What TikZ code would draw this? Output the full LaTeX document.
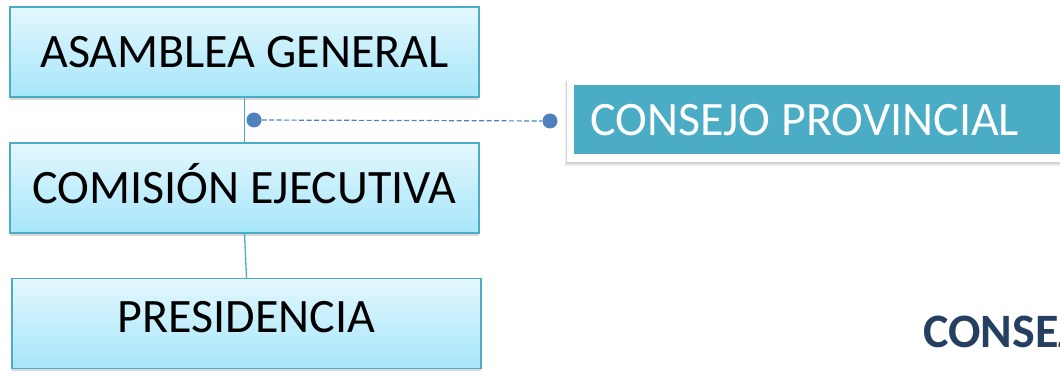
\documentclass[tikz,border=0pt]{standalone}
\usepackage{fontspec}
\setmainfont{Carlito}
\usetikzlibrary{shadows,calc}
\definecolor{boxtop}{HTML}{E3F7FD}
\definecolor{boxbot}{HTML}{A6E6FA}
\definecolor{boxline}{HTML}{4BACC6}
\definecolor{teal}{HTML}{4BACC6}
\definecolor{dotblue}{HTML}{4F81BD}
\definecolor{navy}{HTML}{243F60}
\tikzset{
  orgbox/.style={draw=boxline, line width=1.2pt, top color=boxtop, bottom color=boxbot,
    minimum width=469pt, minimum height=90pt, inner sep=0pt, text height=31pt, text depth=0pt,
    font=\fontsize{48}{52}\selectfont,
    drop shadow={shadow xshift=0pt, shadow yshift=-3pt, opacity=0.3, fill=gray}},
  link/.style={draw=boxline, line width=1.3pt},
  dot/.style={circle, fill=dotblue, inner sep=0pt, minimum size=15pt},
  dashlink/.style={draw=dotblue, line width=1.2pt, dash pattern=on 5pt off 2.5pt},
}
\begin{document}
\begin{tikzpicture}[x=1pt,y=1pt]
\useasboundingbox (0,0) rectangle (1060,370);
\clip (0,0) rectangle (1060,370);
% Consejo provincial box
\node[fill=black, opacity=0.08, minimum width=500pt, minimum height=84pt, anchor=south west] (cpsh1) at (565,204) {};
\node[fill=black, opacity=0.10, minimum width=500pt, minimum height=84pt, anchor=south west] (cpsh2) at (566,206) {};
\node[fill=white, minimum width=500pt, minimum height=84pt, anchor=south west] (cpout) at (567,208) {};
\node[fill=teal, minimum width=500pt, minimum height=69pt, anchor=south west, inner sep=0pt] (cp) at (574,216) {};
\node[anchor=west, text=white, inner sep=0pt, text height=31pt, text depth=0pt,
  font=\fontsize{48}{52}\selectfont] (cptext) at (590,250) {CONSEJO PROVINCIAL};
% Org boxes
\node[orgbox] (ag) at (244.5,318) {ASAMBLEA GENERAL};
\node[orgbox] (ce) at (244.5,182) {COMISIÓN EJECUTIVA};
\node[orgbox, text depth=13pt] (pr) at (246.5,46.5) {PRESIDENCIA};
% connectors
\draw[link] (ag.south) -- (ce.north);
\draw[link] (ce.south) -- (pr.north);
% dots and dashed connector
\node[dot] (d1) at (254,250) {};
\node[dot] (d2) at (550,249) {};
\draw[dashlink] (d1) -- (d2);
% bottom title
\node[anchor=west, text=navy, inner sep=0pt, text height=30pt, text depth=0pt,
  font=\bfseries\fontsize{48}{52}\selectfont] (title) at (923,38) {CONSEJO};
\end{tikzpicture}
\end{document}
